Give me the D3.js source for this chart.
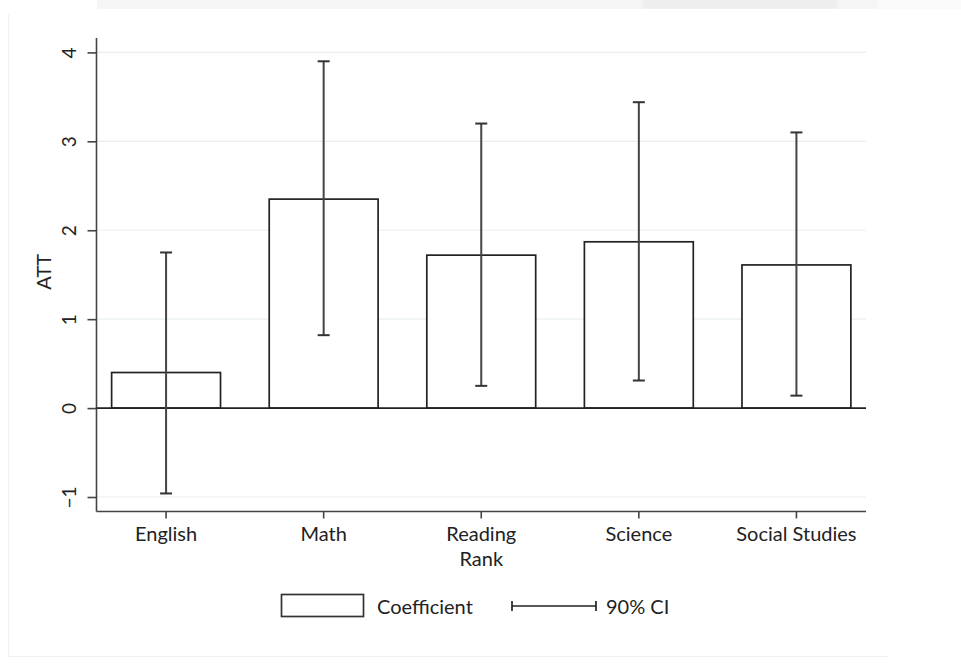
<!DOCTYPE html>
<html>
<head>
<meta charset="utf-8">
<script src="https://cdn.jsdelivr.net/npm/d3@7"></script>
<style>
  html, body { margin: 0; padding: 0; background: #fff; }
  svg { display: block; }
  text { font-family: Lato, "Open Sans", sans-serif; fill: #222; }
</style>
</head>
<body>
<svg id="chart" width="961" height="670"></svg>
<script>
// ---- data ----
const categories = ["English", "Math", "Reading Rank", "Science", "Social Studies"];
const coefficients = [0.40, 2.35, 1.72, 1.87, 1.61];
const ciLower = [-0.96, 0.82, 0.25, 0.31, 0.14];
const ciUpper = [1.75, 3.90, 3.20, 3.44, 3.10];
const yTicks = [-1, 0, 1, 2, 3, 4];
const yLabel = "ATT";
const legendLabels = ["Coefficient", "90% CI"];

const svg = d3.select("#chart");

// screenshot frame artefacts
svg.append("rect").attr("x", 97).attr("y", 0).attr("width", 780).attr("height", 9).attr("fill", "#f5f5f5");
svg.append("rect").attr("x", 877).attr("y", 0).attr("width", 84).attr("height", 9).attr("fill", "#fafafa");
svg.append("path").attr("d", "M643,0 H837 V3 Q837,9 831,9 H649 Q643,9 643,3 Z").attr("fill", "#eeeeee");
svg.append("line").attr("x1", 8.5).attr("x2", 8.5).attr("y1", 14).attr("y2", 656).attr("stroke", "#eef2f2");
svg.append("line").attr("x1", 8).attr("x2", 888).attr("y1", 656.5).attr("y2", 656.5).attr("stroke", "#eef2f2");

const pLeft = 96.5, pRight = 866, pTop = 38, pBottom = 511.5;
const fontSize = "20px";

const x = d3.scaleBand().domain(categories).range([pLeft, pRight])
  .paddingInner(0.309).paddingOuter(0.096);
const y = d3.scaleLinear().domain([-1.163, 4.162]).range([pBottom, pTop]);

// gridlines
svg.append("g").selectAll("line").data(yTicks).join("line")
  .attr("x1", pLeft).attr("x2", pRight)
  .attr("y1", d => y(d)).attr("y2", d => y(d))
  .attr("stroke", "#e8efef").attr("stroke-width", 1.2);

// y axis
const yAxis = svg.append("g").attr("transform", `translate(${pLeft},0)`)
  .call(d3.axisLeft(y).tickValues(yTicks).tickSize(9).tickPadding(0).tickFormat(d3.format("d")));
yAxis.select(".domain").remove();
yAxis.append("line").attr("x1", 0).attr("x2", 0).attr("y1", pTop).attr("y2", pBottom)
  .attr("stroke", "#444").attr("stroke-width", 1.6);
yAxis.selectAll(".tick line").attr("stroke", "#444").attr("stroke-width", 1.6);
yAxis.selectAll(".tick text")
  .attr("x", null).attr("dy", null)
  .attr("transform", "translate(-28,0) rotate(-90)")
  .attr("text-anchor", "middle").attr("dominant-baseline", "central")
  .style("font-size", "19px").style("font-family", "Lato, sans-serif").attr("fill", "#222");

// x axis
const xAxis = svg.append("g").attr("transform", `translate(0,${pBottom})`)
  .call(d3.axisBottom(x).tickSize(7).tickFormat(""));
xAxis.select(".domain").remove();
xAxis.append("line").attr("x1", pLeft).attr("x2", pRight).attr("y1", 0).attr("y2", 0)
  .attr("stroke", "#444").attr("stroke-width", 1.6);
xAxis.selectAll(".tick line").attr("stroke", "#444").attr("stroke-width", 1.6);
xAxis.selectAll(".tick").each(function(d) {
  const words = d === "Reading Rank" ? ["Reading", "Rank"] : [d];
  const t = d3.select(this).append("text").attr("text-anchor", "middle")
    .style("font-size", fontSize);
  words.forEach((w, i) => t.append("tspan").attr("x", 0).attr("y", 29 + i * 25).text(w));
});

// y label
svg.append("text").attr("transform", `translate(51,${(pTop + pBottom) / 2 - 3}) rotate(-90)`)
  .attr("text-anchor", "middle").style("font-size", fontSize).text(yLabel);

// bars
const rows = categories.map((c, i) => ({c, v: coefficients[i], lo: ciLower[i], hi: ciUpper[i]}));
svg.append("g").selectAll("rect").data(rows).join("rect")
  .attr("x", d => x(d.c)).attr("width", x.bandwidth())
  .attr("y", d => y(Math.max(0, d.v))).attr("height", d => Math.abs(y(d.v) - y(0)))
  .attr("fill", "#fff").attr("stroke", "#222").attr("stroke-width", 1.7);

// zero line
svg.append("line").attr("x1", pLeft).attr("x2", pRight).attr("y1", y(0)).attr("y2", y(0))
  .attr("stroke", "#222").attr("stroke-width", 1.7);

// CI
const cap = 6;
const ci = svg.append("g").selectAll("g").data(rows).join("g")
  .attr("transform", d => `translate(${x(d.c) + x.bandwidth() / 2},0)`);
ci.append("line").attr("y1", d => y(d.lo)).attr("y2", d => y(d.hi))
  .attr("stroke", "#444").attr("stroke-width", 2);
ci.append("line").attr("x1", -cap).attr("x2", cap).attr("y1", d => y(d.hi)).attr("y2", d => y(d.hi))
  .attr("stroke", "#333").attr("stroke-width", 2);
ci.append("line").attr("x1", -cap).attr("x2", cap).attr("y1", d => y(d.lo)).attr("y2", d => y(d.lo))
  .attr("stroke", "#333").attr("stroke-width", 2);

// legend
const lg = svg.append("g");
lg.append("rect").attr("x", 281.5).attr("y", 594.5).attr("width", 82).attr("height", 22)
  .attr("fill", "#fff").attr("stroke", "#333").attr("stroke-width", 1.7);
lg.append("text").attr("x", 377).attr("y", 606).attr("dominant-baseline", "central")
  .style("font-size", fontSize).text(legendLabels[0]);
lg.append("line").attr("x1", 512).attr("x2", 596).attr("y1", 606).attr("y2", 606)
  .attr("stroke", "#222").attr("stroke-width", 1.7);
lg.append("line").attr("x1", 512).attr("x2", 512).attr("y1", 601).attr("y2", 611)
  .attr("stroke", "#222").attr("stroke-width", 1.7);
lg.append("line").attr("x1", 596).attr("x2", 596).attr("y1", 601).attr("y2", 611)
  .attr("stroke", "#222").attr("stroke-width", 1.7);
lg.append("text").attr("x", 606).attr("y", 606).attr("dominant-baseline", "central")
  .style("font-size", fontSize).text(legendLabels[1]);
</script>
</body>
</html>
